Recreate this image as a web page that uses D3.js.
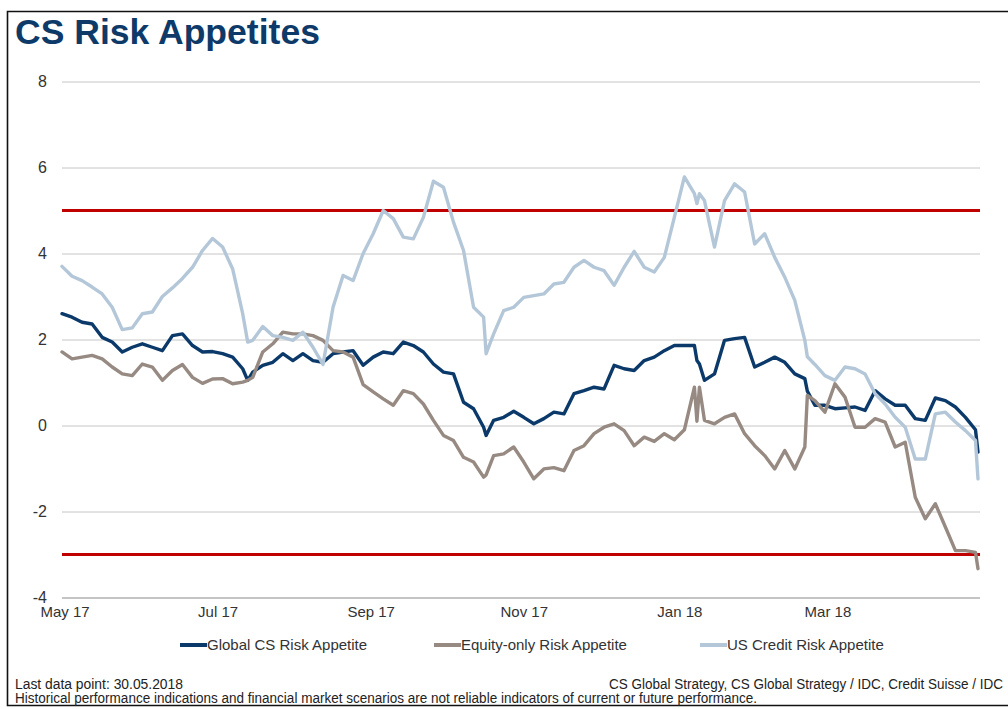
<!DOCTYPE html>
<html>
<head>
<meta charset="utf-8">
<script src="https://cdn.jsdelivr.net/npm/d3@7"></script>
<style>
    body { margin: 0; background: #fff; }
    svg { display: block; font-family: "Liberation Sans", Arial, Helvetica, sans-serif; }
    .grid line { stroke: #c6c6c6; stroke-width: 1; }
    .grid text { fill: #333; font-size: 16px; }
    .xaxis text { fill: #333; font-size: 15px; }
    .legend text { fill: #333; font-size: 15px; }
    .footer { fill: #222; font-size: 14px; }
    .series { fill: none; stroke-width: 3.4; stroke-linejoin: round; stroke-linecap: round; }
</style>
</head>
<body>
<svg id="chart" width="1008" height="709"></svg>
<script>
// observation dates (shared by the three series)
var dates = [
    "2017-05-30","2017-06-03","2017-06-07","2017-06-11","2017-06-15","2017-06-19","2017-06-23","2017-06-27",
    "2017-07-01","2017-07-05","2017-07-09","2017-07-13","2017-07-17","2017-07-21","2017-07-25","2017-07-29",
    "2017-08-02","2017-08-06","2017-08-10","2017-08-12","2017-08-14","2017-08-18","2017-08-22","2017-08-26","2017-08-30",
    "2017-09-03","2017-09-07","2017-09-11","2017-09-15","2017-09-19","2017-09-23","2017-09-27",
    "2017-10-01","2017-10-05","2017-10-09","2017-10-13","2017-10-17","2017-10-21","2017-10-25","2017-10-29",
    "2017-11-02","2017-11-06","2017-11-10","2017-11-14","2017-11-15","2017-11-18","2017-11-22","2017-11-26","2017-11-30",
    "2017-12-04","2017-12-08","2017-12-12","2017-12-16","2017-12-20","2017-12-24","2017-12-28",
    "2018-01-01","2018-01-05","2018-01-09","2018-01-13","2018-01-17","2018-01-21","2018-01-25","2018-01-29",
    "2018-02-02","2018-02-06","2018-02-07","2018-02-08","2018-02-10","2018-02-14","2018-02-18","2018-02-22","2018-02-26",
    "2018-03-02","2018-03-06","2018-03-10","2018-03-14","2018-03-18","2018-03-22","2018-03-23","2018-03-26","2018-03-30",
    "2018-04-03","2018-04-07","2018-04-11","2018-04-15","2018-04-19","2018-04-23","2018-04-27",
    "2018-05-01","2018-05-05","2018-05-09","2018-05-13","2018-05-17","2018-05-21","2018-05-25","2018-05-29","2018-05-30"
];

var globalRisk = [
    2.60,2.52,2.40,2.36,2.05,1.94,1.71,1.82,
    1.90,1.82,1.74,2.09,2.13,1.86,1.71,1.72,
    1.67,1.59,1.32,1.05,1.24,1.40,1.47,1.67,1.51,
    1.67,1.51,1.47,1.67,1.71,1.74,1.40,
    1.59,1.71,1.67,1.94,1.86,1.71,1.43,1.24,
    1.20,0.54,0.39,-0.04,-0.23,0.12,0.19,0.33,0.19,
    0.04,0.16,0.31,0.27,0.74,0.81,0.89,
    0.85,1.40,1.32,1.28,1.51,1.59,1.74,1.86,
    1.86,1.86,1.51,1.43,1.05,1.20,1.98,2.02,2.05,
    1.36,1.47,1.59,1.47,1.20,1.09,0.80,0.47,0.47,
    0.39,0.41,0.43,0.35,0.81,0.62,0.47,
    0.47,0.16,0.12,0.64,0.58,0.43,0.19,-0.10,-0.62
];

var equityRisk = [
    1.71,1.55,1.59,1.63,1.55,1.36,1.20,1.16,
    1.43,1.36,1.05,1.28,1.42,1.12,0.98,1.08,
    1.09,0.97,1.01,1.05,1.12,1.71,1.90,2.17,2.13,
    2.13,2.09,1.98,1.74,1.71,1.59,0.95,
    0.78,0.62,0.47,0.81,0.74,0.50,0.12,-0.23,
    -0.35,-0.74,-0.85,-1.20,-1.15,-0.70,-0.66,-0.50,-0.85,
    -1.24,-1.01,-0.98,-1.05,-0.58,-0.47,-0.19,
    -0.04,0.04,-0.12,-0.47,-0.27,-0.37,-0.19,-0.33,
    -0.10,0.89,0.10,0.89,0.12,0.04,0.19,0.27,-0.19,
    -0.47,-0.70,-1.01,-0.58,-1.01,-0.50,0.70,0.58,0.31,
    0.97,0.66,-0.04,-0.04,0.16,0.08,-0.50,
    -0.39,-1.67,-2.17,-1.82,-2.36,-2.91,-2.91,-2.95,-3.33
];

var usCreditRisk = [
    3.70,3.47,3.37,3.22,3.06,2.75,2.23,2.27,
    2.60,2.64,3.00,3.20,3.42,3.68,4.07,4.35,
    4.15,3.64,2.60,1.94,1.98,2.30,2.09,2.05,1.98,
    2.17,1.82,1.42,2.75,3.49,3.37,4.00,
    4.46,5.00,4.81,4.38,4.34,4.84,5.68,5.54,
    4.73,4.07,2.75,2.52,1.67,2.13,2.67,2.75,2.98,
    3.02,3.06,3.29,3.33,3.68,3.84,3.68,
    3.60,3.26,3.68,4.05,3.68,3.57,3.91,4.84,
    5.78,5.39,5.16,5.39,5.23,4.15,5.23,5.62,5.43,
    4.22,4.46,3.91,3.45,2.91,1.98,1.60,1.42,1.16,
    1.05,1.36,1.32,1.20,0.74,0.50,0.19,
    -0.04,-0.78,-0.78,0.27,0.31,0.08,-0.12,-0.35,-1.24
];

var seriesNames = ["Global CS Risk Appetite", "Equity-only Risk Appetite", "US Credit Risk Appetite"];
var seriesColors = ["#0b3a6a", "#978a82", "#b4c7d8"];
var yTicks = [-4, -2, 0, 2, 4, 6, 8];
var xTickDates = ["2017-05-31", "2017-07-31", "2017-09-30", "2017-11-30", "2018-01-31", "2018-03-31"];
var xTickLabels = ["May 17", "Jul 17", "Sep 17", "Nov 17", "Jan 18", "Mar 18"];
var thresholds = [5, -3];

var parse = d3.timeParse("%Y-%m-%d");

var svg = d3.select("#chart");

// frame
svg.append("path")
    .attr("d", "M1008,11.5 H7.5 V705.5 H1008")
    .attr("fill", "none")
    .attr("stroke", "#111")
    .attr("stroke-width", 1.6);

// title
svg.append("text")
    .attr("x", 15)
    .attr("y", 44)
    .attr("font-size", 35)
    .attr("font-weight", "bold")
    .attr("fill", "#0e3a69")
    .attr("textLength", 305)
    .attr("lengthAdjust", "spacingAndGlyphs")
    .text("CS Risk Appetites");

var plot = {left: 62, right: 980, dataRight: 978, top: 81.5, bottom: 597.5};

var xScale = d3.scaleTime()
    .domain([parse(dates[0]), parse(dates[dates.length - 1])])
    .range([plot.left, plot.dataRight]);

var yScale = d3.scaleLinear()
    .domain([-4, 8])
    .range([plot.bottom, plot.top]);

// grid + y labels (plain hyphen for negatives, as in the original)
var yAxis = d3.axisLeft(yScale)
    .tickValues(yTicks)
    .tickSize(-(plot.right - plot.left))
    .tickPadding(15)
    .tickFormat(function(d){ return String(d); });

var gy = svg.append("g")
    .attr("class", "grid")
    .attr("transform", `translate(${plot.left},0)`)
    .call(yAxis);
gy.select(".domain").remove();
gy.selectAll(".tick")
    .filter(function(d){ return d === -4; })
    .select("line")
    .style("stroke", "#8a8a8a");

// x labels
var xAxis = d3.axisBottom(xScale)
    .tickValues(xTickDates.map(parse))
    .tickSize(0)
    .tickPadding(9)
    .tickFormat(function(d, i){ return xTickLabels[i]; });

var gx = svg.append("g")
    .attr("class", "xaxis")
    .attr("transform", `translate(0,${plot.bottom})`)
    .call(xAxis);
gx.select(".domain").remove();

// threshold lines
svg.selectAll(".threshold")
    .data(thresholds)
    .enter().append("line")
    .attr("class", "threshold")
    .attr("x1", plot.left)
    .attr("x2", plot.right)
    .attr("y1", function(d){ return yScale(d); })
    .attr("y2", function(d){ return yScale(d); })
    .attr("stroke", "#c00000")
    .attr("stroke-width", 3);

// series
var allSeries = [globalRisk, equityRisk, usCreditRisk];

var line_generator = d3.line()
    .x(function(d){ return xScale(d.date); })
    .y(function(d){ return yScale(d.v); });

allSeries.forEach(function(vals, s){
    var pts = dates.map(function(dt, i){ return {date: parse(dt), v: vals[i]}; });
    svg.append("path")
        .attr("class", "series")
        .attr("stroke", seriesColors[s])
        .attr("d", line_generator(pts));
});

// legend
var legendX = [180, 434, 700];
var legend = svg.append("g").attr("class", "legend");
seriesNames.forEach(function(name, i){
    legend.append("line")
        .attr("x1", legendX[i])
        .attr("x2", legendX[i] + 27)
        .attr("y1", 645)
        .attr("y2", 645)
        .attr("stroke", seriesColors[i])
        .attr("stroke-width", 4);
    legend.append("text")
        .attr("x", legendX[i] + 27)
        .attr("y", 650)
        .text(name);
});

// footer
svg.append("text")
    .attr("class", "footer")
    .attr("x", 15)
    .attr("y", 689)
    .attr("textLength", 168)
    .attr("lengthAdjust", "spacingAndGlyphs")
    .text("Last data point: 30.05.2018");

svg.append("text")
    .attr("class", "footer")
    .attr("x", 609)
    .attr("y", 689)
    .attr("textLength", 394)
    .attr("lengthAdjust", "spacingAndGlyphs")
    .text("CS Global Strategy, CS Global Strategy / IDC, Credit Suisse / IDC");

svg.append("text")
    .attr("class", "footer")
    .attr("x", 15)
    .attr("y", 703)
    .attr("textLength", 742)
    .attr("lengthAdjust", "spacingAndGlyphs")
    .text("Historical performance indications and financial market scenarios are not reliable indicators of current or future performance.");
</script>
</body>
</html>
